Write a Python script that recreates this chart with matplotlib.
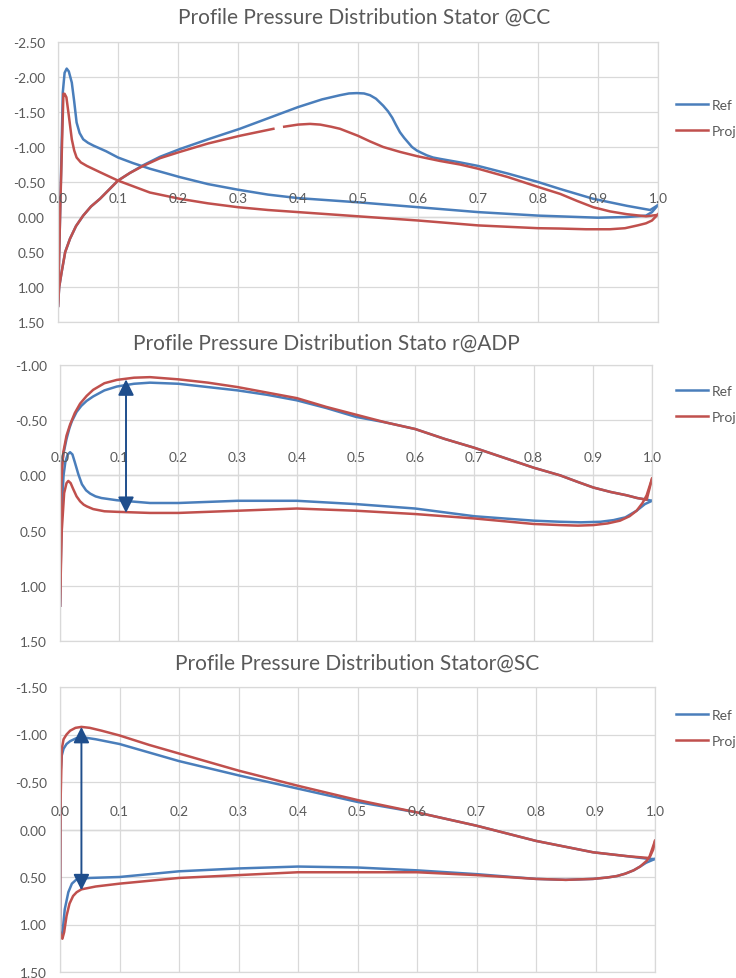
import numpy as np
import matplotlib
matplotlib.use('Agg')
import matplotlib.pyplot as plt

nan = np.nan

# ---- Stator @CC ----
cc_ref_a_x = [0, 0.005, 0.008, 0.011, 0.0145, 0.018, 0.023, 0.027, 0.031, 0.036, 0.042, 0.05, 0.059, 0.08, 0.1,
              0.125, 0.153, 0.203, 0.25, 0.3, 0.35, 0.4, 0.45, 0.5, 0.6, 0.7, 0.8, 0.9, 0.948, 0.98, 0.99, 1.0]
cc_ref_a_y = [1.27, -0.6, -1.78, -2.06, -2.12, -2.08, -1.92, -1.65, -1.35, -1.2, -1.11, -1.06, -1.02, -0.94, -0.85,
              -0.77, -0.69, -0.57, -0.47, -0.39, -0.32, -0.27, -0.24, -0.21, -0.14, -0.07, -0.02, 0.01, 0.0, -0.02, -0.07, -0.17]
cc_ref_b_x = [0, 0.002, 0.006, 0.012, 0.02, 0.03, 0.042, 0.055, 0.07, 0.085, 0.1, 0.12, 0.142, 0.17, 0.203, 0.25,
              0.303, 0.35, 0.4, 0.44, 0.47, 0.485, 0.498, 0.51, 0.52, 0.53, 0.542, 0.55, 0.557, 0.563, 0.57, 0.577,
              0.585, 0.59, 0.598, 0.605, 0.615, 0.625, 0.637, 0.67, 0.7, 0.75, 0.8, 0.837, 0.892, 0.948, 0.987, 1.0]
cc_ref_b_y = [1.27, 1.0, 0.79, 0.5, 0.31, 0.13, -0.02, -0.15, -0.26, -0.39, -0.52, -0.63, -0.74, -0.86, -0.97, -1.11,
              -1.26, -1.41, -1.57, -1.68, -1.74, -1.765, -1.77, -1.765, -1.74, -1.69, -1.59, -1.51, -1.42, -1.32, -1.21,
              -1.13, -1.05, -1.0, -0.95, -0.92, -0.88, -0.85, -0.83, -0.78, -0.73, -0.62, -0.5, -0.40, -0.26, -0.16,
              -0.10, -0.17]
cc_proj_a_x = [0, 0.004, 0.009, 0.011, 0.014, 0.018, 0.023, 0.027, 0.031, 0.038, 0.048, 0.07, 0.1, 0.153, 0.203, 0.25,
               0.3, 0.35, 0.4, 0.45, 0.5, 0.6, 0.7, 0.8, 0.837, 0.88, 0.92, 0.945, 0.966, 0.98, 0.99, 1.0]
cc_proj_a_y = [1.27, -0.2, -1.76, -1.76, -1.71, -1.45, -1.11, -0.95, -0.85, -0.78, -0.73, -0.64, -0.52, -0.35, -0.26,
               -0.195, -0.14, -0.1, -0.07, -0.04, -0.01, 0.05, 0.12, 0.16, 0.165, 0.175, 0.175, 0.16, 0.12, 0.09, 0.05, -0.04]
cc_proj_b_x = [0, 0.002, 0.006, 0.012, 0.02, 0.03, 0.042, 0.055, 0.07, 0.085, 0.1, 0.12, 0.142, 0.17, 0.203, 0.25,
               0.303, 0.359, nan, 0.377, 0.4, 0.42, 0.437, 0.455, 0.47, 0.485, 0.5, 0.52, 0.542, 0.57, 0.598, 0.637,
               0.67, 0.7, 0.75, 0.8, 0.837, 0.865, 0.892, 0.92, 0.948, 0.98, 1.0]
cc_proj_b_y = [1.27, 1.0, 0.79, 0.5, 0.31, 0.13, -0.02, -0.15, -0.26, -0.39, -0.52, -0.63, -0.73, -0.84, -0.93, -1.05,
               -1.16, -1.26, nan, -1.29, -1.32, -1.33, -1.32, -1.29, -1.26, -1.21, -1.16, -1.08, -1.0, -0.93, -0.87,
               -0.80, -0.75, -0.69, -0.57, -0.43, -0.33, -0.23, -0.14, -0.08, -0.04, -0.01, -0.03]

# ---- Stator @ADP ----
adp_ref_a_x = [0, 0.0015, 0.003, 0.006, 0.011, 0.016, 0.02, 0.028, 0.036, 0.045, 0.056, 0.075, 0.096, 0.125, 0.152,
               0.2, 0.25, 0.3, 0.35, 0.4, 0.45, 0.5, 0.55, 0.6, 0.65, 0.7, 0.75, 0.8, 0.845, 0.875, 0.901, 0.93, 0.957,
               0.975, 0.991, 1.0]
adp_ref_a_y = [1.18, 0.4, -0.09, -0.2, -0.33, -0.43, -0.49, -0.575, -0.63, -0.675, -0.715, -0.77, -0.805, -0.83, -0.84,
               -0.83, -0.8, -0.77, -0.73, -0.68, -0.61, -0.53, -0.48, -0.42, -0.33, -0.25, -0.16, -0.07, 0.0, 0.06, 0.11,
               0.15, 0.18, 0.205, 0.22, 0.23]
adp_ref_b_x = [0, 0.003, 0.006, 0.009, 0.013, 0.017, 0.021, 0.025, 0.031, 0.037, 0.044, 0.051, 0.06, 0.07, 0.096,
               0.152, 0.2, 0.3, 0.4, 0.5, 0.6, 0.7, 0.8, 0.845, 0.88, 0.913, 0.935, 0.955, 0.974, 0.988, 1.0]
adp_ref_b_y = [1.18, 0.3, 0.0, -0.12, -0.19, -0.21, -0.19, -0.12, -0.01, 0.08, 0.135, 0.165, 0.19, 0.205, 0.225,
               0.25, 0.25, 0.23, 0.23, 0.26, 0.30, 0.37, 0.41, 0.42, 0.425, 0.42, 0.405, 0.38, 0.32, 0.26, 0.23]
adp_proj_a_x = [0, 0.0017, 0.0035, 0.0056, 0.011, 0.017, 0.025, 0.034, 0.045, 0.056, 0.075, 0.096, 0.125, 0.152, 0.2,
                0.25, 0.3, 0.35, 0.4, 0.45, 0.5, 0.55, 0.6, 0.65, 0.7, 0.75, 0.8, 0.845, 0.875, 0.901, 0.93, 0.957,
                0.975, 0.991, 1.0]
adp_proj_a_y = [1.18, 0.15, -0.05, -0.21, -0.36, -0.46, -0.565, -0.65, -0.72, -0.775, -0.835, -0.865, -0.885, -0.89,
                -0.87, -0.84, -0.80, -0.75, -0.70, -0.62, -0.55, -0.48, -0.42, -0.33, -0.25, -0.16, -0.07, 0.0, 0.06,
                0.11, 0.15, 0.18, 0.205, 0.22, 0.03]
adp_proj_b_x = [0, 0.003, 0.007, 0.011, 0.014, 0.018, 0.022, 0.028, 0.034, 0.04, 0.045, 0.056, 0.075, 0.096, 0.152,
                0.2, 0.3, 0.4, 0.5, 0.6, 0.7, 0.8, 0.845, 0.875, 0.901, 0.925, 0.946, 0.962, 0.974, 0.984, 0.991, 1.0]
adp_proj_b_y = [1.18, 0.5, 0.16, 0.07, 0.05, 0.07, 0.12, 0.19, 0.235, 0.265, 0.28, 0.305, 0.325, 0.33, 0.34,
                0.34, 0.32, 0.30, 0.32, 0.35, 0.39, 0.44, 0.45, 0.455, 0.45, 0.435, 0.41, 0.37, 0.32, 0.25, 0.18, 0.03]

# ---- Stator @SC ----
sc_ref_a_x = [0, 0.001, 0.003, 0.006, 0.011, 0.017, 0.027, 0.039, 0.06, 0.1, 0.15, 0.2, 0.3, 0.4, 0.5, 0.6, 0.7, 0.8,
              0.84, 0.896, 0.952, 0.99, 1.0]
sc_ref_a_y = [1.08, -0.6, -0.78, -0.85, -0.9, -0.93, -0.96, -0.97, -0.95, -0.90, -0.81, -0.72, -0.57, -0.43, -0.29,
              -0.18, -0.04, 0.12, 0.17, 0.24, 0.28, 0.31, 0.31]
sc_ref_b_x = [0, 0.002, 0.004, 0.008, 0.014, 0.02, 0.027, 0.034, 0.05, 0.1, 0.2, 0.3, 0.4, 0.5, 0.6, 0.7, 0.8, 0.85,
              0.896, 0.92, 0.936, 0.95, 0.964, 0.975, 0.985, 1.0]
sc_ref_b_y = [1.08, 1.13, 1.10, 0.84, 0.66, 0.57, 0.53, 0.52, 0.51, 0.50, 0.44, 0.41, 0.39, 0.40, 0.43, 0.47, 0.52, 0.53,
              0.52, 0.505, 0.49, 0.465, 0.43, 0.39, 0.35, 0.31]
sc_proj_a_x = [0, 0.001, 0.003, 0.006, 0.011, 0.017, 0.026, 0.036, 0.05, 0.07, 0.1, 0.15, 0.2, 0.3, 0.4, 0.5, 0.6, 0.7,
               0.8, 0.84, 0.896, 0.952, 0.99, 1.0]
sc_proj_a_y = [1.08, -0.3, -0.85, -0.95, -1.0, -1.04, -1.07, -1.08, -1.07, -1.04, -0.99, -0.89, -0.80, -0.62, -0.46,
               -0.31, -0.18, -0.04, 0.12, 0.17, 0.24, 0.28, 0.30, 0.12]
sc_proj_b_x = [0, 0.002, 0.004, 0.007, 0.011, 0.016, 0.022, 0.028, 0.036, 0.06, 0.1, 0.2, 0.3, 0.4, 0.5, 0.6, 0.7, 0.8,
               0.85, 0.896, 0.92, 0.936, 0.95, 0.964, 0.975, 0.986, 0.992, 0.997, 1.0]
sc_proj_b_y = [1.08, 1.13, 1.15, 1.08, 0.91, 0.78, 0.70, 0.66, 0.63, 0.60, 0.57, 0.51, 0.48, 0.45, 0.45, 0.45, 0.48,
               0.52, 0.53, 0.52, 0.505, 0.49, 0.465, 0.43, 0.39, 0.33, 0.28, 0.21, 0.12]

titles = ['Profile Pressure Distribution Stator @CC',
          'Profile Pressure Distribution Stato r@ADP',
          'Profile Pressure Distribution Stator@SC']
y_limits = [(-2.5, 1.5), (-1.0, 1.5), (-1.5, 1.5)]
x_ticks = [round(0.1 * i, 1) for i in range(11)]
series_names = ['Ref', 'Proj']
# double arrows: x, top, bottom (None for the CC panel)
arrows = [None, (0.1115, -0.87, 0.34), (0.036, -1.08, 0.64)]

BLUE = '#4a7ebb'
RED = '#c0504d'
ARROW = '#1f4e8c'
GRID = '#d9d9d9'
TEXT = '#595959'

W, H = 736, 979


def px_box(left, right, top, bottom):
    return [left / W, 1 - bottom / H, (right - left) / W, (bottom - top) / H]


def draw_panel(fig, box, title, title_xy, ylim, ref, proj, arrow, legend_y):
    ax = fig.add_axes(box)
    for (a, b), color, name in [(ref, BLUE, series_names[0]), (proj, RED, series_names[1])]:
        ax.plot(a[0], a[1], color=color, lw=1.8, label=name, solid_joinstyle='round')
        ax.plot(b[0], b[1], color=color, lw=1.8, solid_joinstyle='round')
    ax.set_xlim(0, 1.0)
    ax.set_ylim(ylim[1], ylim[0])
    ax.set_xticks(x_ticks)
    ax.set_yticks(np.arange(ylim[0], ylim[1] + 0.01, 0.5))
    ax.yaxis.set_major_formatter(matplotlib.ticker.FormatStrFormatter('%.2f'))
    ax.tick_params(axis='x', length=0, labelbottom=False)
    ax.tick_params(axis='y', length=0, pad=9.5, labelsize=9.8, labelcolor=TEXT)
    ax.grid(True, color=GRID, lw=0.9)
    ax.set_axisbelow(True)
    for s in ax.spines.values():
        s.set_color(GRID)
        s.set_linewidth(0.9)
    ax.axhline(0, color='#bfbfbf', lw=0.9, zorder=0.5)
    for t in x_ticks:
        ax.annotate('%.1f' % t, xy=(t, 0), xytext=(0, 13.5), textcoords='offset points',
                    ha='center', va='center', fontsize=9.8, color=TEXT, annotation_clip=False)
    if arrow is not None:
        ax.annotate('', xy=(arrow[0], arrow[1]), xytext=(arrow[0], arrow[2]),
                    arrowprops=dict(arrowstyle='<|-|>', color=ARROW, lw=1.4,
                                    mutation_scale=24, shrinkA=0, shrinkB=0))
    fig.text(title_xy[0] / W, 1 - title_xy[1] / H, title, ha='center', va='center',
             fontsize=15, color=TEXT)
    ax.legend(loc='upper left', bbox_to_anchor=(676 / W, 1 - (legend_y - 8) / H),
              bbox_transform=fig.transFigure, frameon=False, fontsize=10, borderpad=0,
              handlelength=2.3, handletextpad=0.3, labelspacing=1.0, labelcolor=TEXT,
              borderaxespad=0)
    return ax


def main():
    plt.rcParams['font.family'] = ['Lato', 'DejaVu Sans']
    fig = plt.figure(figsize=(W / 100, H / 100), dpi=100)
    draw_panel(fig, px_box(58, 658, 43, 323), titles[0], (364, 18), y_limits[0],
               ((cc_ref_a_x, cc_ref_a_y), (cc_ref_b_x, cc_ref_b_y)),
               ((cc_proj_a_x, cc_proj_a_y), (cc_proj_b_x, cc_proj_b_y)), arrows[0], 108)
    draw_panel(fig, px_box(60, 652, 366, 642), titles[1], (326, 344), y_limits[1],
               ((adp_ref_a_x, adp_ref_a_y), (adp_ref_b_x, adp_ref_b_y)),
               ((adp_proj_a_x, adp_proj_a_y), (adp_proj_b_x, adp_proj_b_y)), arrows[1], 394)
    draw_panel(fig, px_box(60, 655, 688, 973), titles[2], (357, 664), y_limits[2],
               ((sc_ref_a_x, sc_ref_a_y), (sc_ref_b_x, sc_ref_b_y)),
               ((sc_proj_a_x, sc_proj_a_y), (sc_proj_b_x, sc_proj_b_y)), arrows[2], 718)
    fig.savefig('out.png', dpi=100, facecolor='white')


if __name__ == '__main__':
    main()
